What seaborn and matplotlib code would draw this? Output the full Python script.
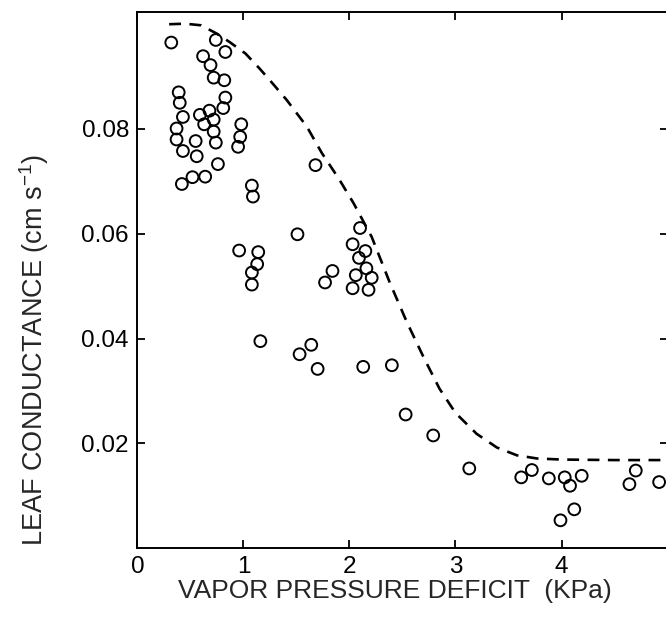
import seaborn as sns
import matplotlib.pyplot as plt

# observed points: vapor pressure deficit (KPa) vs leaf conductance (cm s-1)
vpd = [0.32, 0.74, 0.83, 0.62, 0.69, 0.72, 0.82, 0.39, 0.40, 0.83,
       0.81, 0.43, 0.59, 0.68, 0.72, 0.63, 0.37, 0.37, 0.72, 0.74,
       0.55, 0.43, 0.98, 0.97, 0.95, 0.56, 0.76, 1.68, 0.42, 0.52,
       0.64, 1.08, 1.09,
       1.51, 0.96, 1.14, 1.13, 1.08, 1.08, 1.16, 1.64, 1.53, 1.70,
       2.10, 2.03, 2.15, 2.09, 2.16, 1.84, 2.06, 2.21, 1.77, 2.03,
       2.18, 2.13, 2.40, 2.53, 2.79,
       3.13, 3.62, 3.72, 3.88, 4.03, 4.08, 4.19, 4.12, 3.99, 4.70,
       4.64, 4.92]
conductance = [0.0965, 0.0970, 0.0947, 0.0939, 0.0922, 0.0898, 0.0893, 0.0870, 0.0850, 0.0860,
               0.0840, 0.0823, 0.0827, 0.0835, 0.0818, 0.0809, 0.0801, 0.0780, 0.0795, 0.0774,
               0.0777, 0.0758, 0.0809, 0.0785, 0.0766, 0.0748, 0.0733, 0.0731, 0.0695, 0.0708,
               0.0709, 0.0692, 0.0671,
               0.0599, 0.0568, 0.0565, 0.0542, 0.0526, 0.0503, 0.0395, 0.0388, 0.0370, 0.0342,
               0.0611, 0.0580, 0.0567, 0.0554, 0.0534, 0.0529, 0.0521, 0.0516, 0.0507, 0.0496,
               0.0493, 0.0346, 0.0349, 0.0255, 0.0215,
               0.0152, 0.0135, 0.0149, 0.0133, 0.0135, 0.0119, 0.0138, 0.0074, 0.0053, 0.0148,
               0.0122, 0.0126]

# dashed response curve
curve_vpd = [0.30, 0.45, 0.60, 0.75, 0.87, 1.02, 1.15, 1.25, 1.41, 1.60,
             1.74, 1.90, 2.04, 2.21, 2.38, 2.54, 2.70, 2.85, 3.00, 3.20,
             3.39, 3.58, 3.77, 4.00, 4.50, 5.00]
curve_g = [0.1000, 0.1001, 0.0998, 0.0982, 0.0966, 0.0944, 0.0916, 0.0893, 0.0855, 0.0804,
           0.0754, 0.0705, 0.0658, 0.0594, 0.0507, 0.0432, 0.0364, 0.0304, 0.0258, 0.0218,
           0.0192, 0.0177, 0.0171, 0.0169, 0.0168, 0.0168]

x_ticks = [0, 1, 2, 3, 4, 5]
x_ticklabels = ['0', '1', '2', '3', '4', '']
y_ticks = [0.02, 0.04, 0.06, 0.08]
y_ticklabels = ['0.02', '0.04', '0.06', '0.08']

sns.set_theme(style="ticks")
plt.rcParams['font.family'] = ['Liberation Sans', 'DejaVu Sans']
plt.rcParams['mathtext.default'] = 'regular'

fig = plt.figure(figsize=(6.66, 6.2), dpi=100)
ax = fig.add_axes([0.2062, 0.116, 0.7962, 0.8652])

sns.lineplot(x=curve_vpd, y=curve_g, ax=ax, color='black', linewidth=1.9,
             linestyle=(0, (4.5, 3.2)), sort=True)
sns.scatterplot(x=vpd, y=conductance, ax=ax, s=72, marker='o',
                facecolor='none', edgecolor='black', linewidth=1.4)

ax.set_xlim(0, 5)
ax.set_ylim(0, 0.1024)
ax.set_xticks(x_ticks)
ax.set_xticklabels(x_ticklabels)
ax.set_yticks(y_ticks)
ax.set_yticklabels(y_ticklabels)

ax.tick_params(direction='in', length=6, width=1.3, top=True, right=True,
               labelsize=17.5, pad=6, colors='black')
for sp in ax.spines.values():
    sp.set_visible(True)
    sp.set_linewidth(1.4)
    sp.set_color('black')

ax.set_xlabel('VAPOR PRESSURE DEFICIT  (KPa)', fontsize=19, va='center')
ax.xaxis.set_label_coords(0.486, -0.08)
ax.set_ylabel('LEAF CONDUCTANCE (cm s$^{-1}$)', fontsize=19.5, va='center')
ax.yaxis.set_label_coords(-0.195, 0.369)

fig.savefig('out.png', dpi=100)
